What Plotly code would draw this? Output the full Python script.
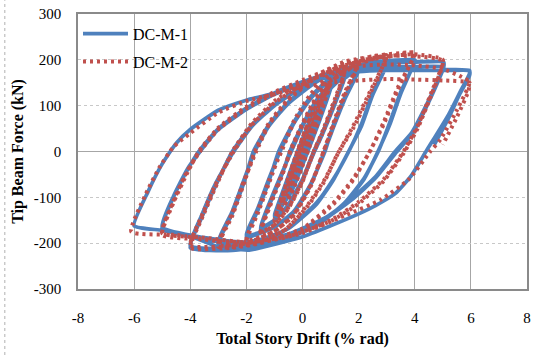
import plotly.graph_objects as go

# ---------------- data ----------------
X_TICKS = [-8, -6, -4, -2, 0, 2, 4, 6, 8]
Y_TICKS = [-300, -200, -100, 0, 100, 200, 300]

# DC-M-1 (blue) : drift (% rad) / tip beam force (kN), one cycle per line
DCM1_DRIFT = [
    0,
    0.375, 0.12, -0.375, -0.12, 0.375,
    0.5, 0.2, -0.2, -0.5, -0.2, 0.2, 0.5,
    0.75, 0.4, 0, -0.4, -0.75, -0.4, 0, 0.4, 0.75,
    1, 0.6, 0.1, -0.4, -1, -0.6, -0.1, 0.4, 1,
    1, 0.6, 0.1, -0.4, -1, -0.6, -0.1, 0.4, 1,
    1.5, 1.1, 0.7, 0.4, 0, -0.5, -1, -1.5, -1.1, -0.7, -0.45, 0, 0.5, 1, 1.5,
    1.5, 1.1, 0.7, 0.4, 0, -0.5, -1, -1.5, -1.1, -0.7, -0.4, 0, 0.5, 1, 1.5,
    2, 1.5, 1.1, 0.8, 0.3, -0.3, -1, -2, -1.6, -1.2, -0.85, -0.3, 0.3, 1, 2,
    2, 1.5, 1.1, 0.75, 0.3, -0.3, -1, -2, -1.6, -1.2, -0.8, -0.3, 0.3, 1, 2,
    3, 2.5, 2.1, 1.65, 1.1, 0.5, -0.5, -1.5, -3, -2.5, -2.1, -1.75, -1.2, -0.5, 0.5, 1.5, 3,
    3, 2.5, 2.1, 1.6, 1.1, 0.5, -0.5, -1.5, -3, -2.5, -2.1, -1.7, -1.2, -0.5, 0.5, 1.5, 3,
    4, 3.5, 3.1, 2.7, 2.2, 1.5, 0.5, -1, -2.5, -4, -3.6, -3.1, -2.5, -1.8, -1, 0, 1.2, 2.5, 4,
    4, 3.5, 3.1, 2.65, 2.2, 1.5, 0.5, -1, -2.5, -4, -3.6, -3.1, -2.45, -1.8, -1, 0, 1.2, 2.5, 4,
    5.03, 5.03, 4.5, 3.9, 3.3, 2.6, 1.8, 0.8, -0.5, -2, -3.5, -5, -4.6, -4.1, -3.7, -3, -2, -1, 0, 1, 2, 3, 4, 5.03,
    5.03, 4.5, 3.9, 3.3, 2.6, 1.8, 0.8, -0.5, -2, -3.5, -5, -4.6, -4.1, -3.65, -3, -2, -1, 0, 1, 2, 3, 4, 5.03, 5.03,
    5.95, 5.95, 5.6, 5.2, 4.4, 3.85, 3.3, 2.6, 2, 1, 0, -1.9, -3, -4, -5, -6, -5.5, -5, -4.5, -4, -3, -2, -1, 0, 1, 2, 3, 4, 5, 5.95,
    5.95, 5.6, 5.2, 4.7,
]
DCM1_FORCE = [
    0,
    55, 16, -58, -14, 55,
    76, 26, -34, -78, -24, 34, 76,
    110, 46, -14, -70, -112, -48, 14, 72, 110,
    140, 70, -10, -85, -142, -72, 10, 88, 140,
    137, 66, -14, -88, -140, -70, 12, 84, 137,
    165, 100, 40, 0, -60, -115, -150, -170, -105, -45, 0, 58, 112, 148, 165,
    160, 95, 36, -4, -62, -118, -150, -166, -100, -42, 0, 55, 108, 145, 160,
    180, 118, 58, 0, -70, -130, -165, -187, -130, -66, 0, 65, 120, 160, 180,
    176, 113, 52, -5, -72, -132, -165, -183, -125, -60, 0, 62, 116, 157, 176,
    192, 128, 60, 0, -60, -112, -168, -195, -205, -135, -70, 0, 58, 108, 155, 180, 192,
    188, 123, 55, -5, -62, -115, -168, -192, -200, -130, -64, 0, 55, 105, 152, 177, 188,
    200, 130, 62, 0, -58, -112, -162, -200, -216, -210, -145, -75, 0, 58, 102, 142, 175, 195, 200,
    196, 126, 57, -5, -60, -113, -162, -198, -212, -205, -140, -70, 0, 55, 100, 140, 172, 192, 196,
    195, 183, 112, 42, 0, -55, -100, -145, -180, -203, -192, -168, -100, -40, 0, 50, 95, 128, 152, 172, 186, 193, 195, 195,
    183, 108, 38, -5, -58, -103, -147, -180, -198, -188, -165, -98, -38, 0, 48, 92, 125, 148, 168, 180, 184, 185, 185, 180,
    177, 170, 128, 80, 0, -55, -92, -118, -136, -162, -186, -215, -208, -185, -172, -162, -87, -27, 18, 48, 90, 112, 127, 146, 163, 174, 177, 177, 177, 176,
    165, 125, 72, 15,
]

# DC-M-2 (red)
DCM2_DRIFT = [
    0,
    0.375, 0.1, -0.375, -0.1, 0.375,
    0.5, 0.2, -0.2, -0.5, -0.2, 0.2, 0.5,
    0.75, 0.4, 0, -0.4, -0.75, -0.4, 0, 0.4, 0.75,
    1, 0.6, 0.1, -0.4, -1, -0.6, -0.1, 0.4, 1,
    1, 0.6, 0.1, -0.4, -1, -0.6, -0.1, 0.4, 1,
    1.5, 1.1, 0.7, 0.4, 0, -0.5, -1, -1.5, -1.1, -0.7, -0.45, 0, 0.5, 1, 1.5,
    1.5, 1.1, 0.7, 0.38, 0, -0.5, -1, -1.5, -1.1, -0.7, -0.42, 0, 0.5, 1, 1.5,
    2, 1.5, 1.1, 0.75, 0.3, -0.3, -1, -2, -1.6, -1.2, -0.78, -0.3, 0.3, 1, 2,
    2, 1.5, 1.1, 0.72, 0.3, -0.3, -1, -2, -1.6, -1.2, -0.75, -0.3, 0.3, 1, 2,
    3, 2.4, 1.8, 1.3, 0.8, 0.2, -0.6, -1.5, -3, -2.5, -2.1, -1.7, -1.2, -0.5, 0.5, 1.5, 3,
    3, 2.4, 1.8, 1.25, 0.8, 0.2, -0.6, -1.5, -3, -2.5, -2.1, -1.65, -1.2, -0.5, 0.5, 1.5, 3,
    4, 3.4, 2.9, 2.4, 1.8, 1.1, 0, -1.5, -2.5, -4, -3.6, -3.1, -2.5, -1.8, -1, 0, 1.2, 2.5, 4,
    4, 3.4, 2.9, 2.35, 1.8, 1.1, 0, -1.5, -2.5, -4, -3.6, -3.1, -2.45, -1.8, -1, 0, 1.2, 2.5, 4,
    5, 4.6, 4.1, 3.6, 2.9, 2, 1, -0.5, -2, -3.5, -5, -4.6, -4.1, -3.7, -3, -2, -1, 0, 1, 2, 3, 4, 5,
    4.6, 4.1, 3.6, 2.9, 2, 1, -0.5, -2, -3.5, -5, -4.6, -4.1, -3.65, -3, -2, -1, 0, 1, 2, 3, 4, 5, 5.6, 5.95,
    5.5, 4.9, 4.55, 3.8, 2.8, 1.5, 0, -1.5, -3, -4.5, -6.1, -5.6, -5.1, -4.6, -4, -3, -2, -1, 0, 1, 2, 3, 4, 5, 5.95,
    5.9, 5.5, 5.0,
]
DCM2_FORCE = [
    0,
    60, 16, -60, -16, 60,
    82, 28, -36, -84, -26, 36, 82,
    118, 50, -15, -75, -120, -52, 17, 78, 118,
    148, 76, -12, -90, -152, -78, 12, 94, 148,
    150, 72, -15, -92, -150, -74, 15, 90, 150,
    176, 106, 42, 0, -64, -122, -160, -180, -110, -48, 0, 62, 120, 157, 176,
    172, 100, 38, -4, -66, -124, -160, -176, -105, -44, 0, 58, 116, 154, 172,
    195, 128, 62, 0, -72, -136, -174, -198, -136, -70, 0, 68, 126, 170, 195,
    190, 122, 56, -5, -75, -138, -174, -194, -130, -64, 0, 64, 122, 166, 190,
    210, 130, 55, 0, -60, -115, -170, -198, -208, -140, -72, 0, 62, 115, 166, 196, 210,
    206, 125, 50, -5, -63, -118, -170, -195, -204, -134, -66, 0, 58, 112, 162, 192, 206,
    216, 140, 65, 0, -60, -112, -168, -200, -210, -210, -148, -78, 0, 62, 110, 150, 185, 208, 216,
    212, 135, 60, -5, -63, -115, -170, -198, -206, -205, -142, -72, 0, 58, 106, 146, 182, 204, 212,
    200, 130, 55, 0, -60, -110, -150, -185, -202, -192, -182, -112, -46, 0, 52, 98, 130, 156, 180, 196, 208, 208, 198,
    125, 50, -4, -64, -114, -152, -185, -198, -188, -178, -108, -42, 0, 48, 94, 126, 150, 172, 186, 190, 188, 180, 165, 152,
    90, 25, 0, -60, -105, -140, -178, -198, -195, -182, -175, -95, -35, 10, 40, 85, 110, 125, 140, 150, 155, 158, 157, 155, 150,
    130, 75, 15,
]

SERIES_NAMES = ["DC-M-1", "DC-M-2"]
X_TITLE = "Total Story Drift (% rad)"
Y_TITLE = "Tip Beam Force (kN)"

BLUE = "#4F81BD"
RED = "#C0504D"
SERIF = "Liberation Serif"

fig = go.Figure()
fig.add_trace(go.Scatter(
    x=DCM1_DRIFT, y=DCM1_FORCE, mode="lines", name=SERIES_NAMES[0],
    legendgroup="a",
    line=dict(color=BLUE, width=3.7, shape="spline", smoothing=0.5),
))
fig.add_trace(go.Scatter(
    x=DCM2_DRIFT, y=DCM2_FORCE, mode="lines", name=SERIES_NAMES[1],
    legendgroup="b",
    line=dict(color=RED, width=4, dash="3px,4px", shape="spline", smoothing=0.5),
))

# faint dotted border of the chart area at the left edge of the picture
fig.add_shape(type="line", xref="paper", yref="paper",
              x0=-0.163, x1=-0.163, y0=-0.24, y1=1.05,
              line=dict(color="#b0b0b0", width=1, dash="dot"))

fig.update_layout(
    width=536, height=356,
    margin=dict(l=78, r=5, t=14, b=67),
    paper_bgcolor="white", plot_bgcolor="white",
    font=dict(family=SERIF, size=14, color="black"),
    showlegend=True,
    legend=dict(
        x=0.0, y=0.99, xanchor="left", yanchor="top",
        bgcolor="rgba(0,0,0,0)", borderwidth=0,
        font=dict(family=SERIF, size=16, color="black"),
        tracegroupgap=4, traceorder="grouped", itemwidth=45,
    ),
    xaxis=dict(
        range=[-8, 8], tickmode="array", tickvals=X_TICKS,
        ticktext=[str(v) for v in X_TICKS],
        showgrid=True, gridcolor="#a6a6a6", gridwidth=1,
        zeroline=False, showline=True, linecolor="#8a8a8a", linewidth=1.5, mirror=True,
        ticks="", ticklabelstandoff=14,
        tickfont=dict(family=SERIF, size=15),
        title=dict(text="<b>" + X_TITLE + "</b>", font=dict(family=SERIF, size=16), standoff=8),
    ),
    yaxis=dict(
        range=[-300, 300], tickmode="array", tickvals=Y_TICKS,
        ticktext=[str(v) for v in Y_TICKS],
        showgrid=True, gridcolor="#c8c8c8", gridwidth=1, griddash="dot",
        zeroline=True, zerolinecolor="#a6a6a6", zerolinewidth=1,
        showline=True, linecolor="#8a8a8a", linewidth=1.5, mirror=True,
        ticks="", ticklabelstandoff=12,
        tickfont=dict(family=SERIF, size=15),
        title=dict(text="<b>" + Y_TITLE + "</b>", font=dict(family=SERIF, size=16), standoff=6),
    ),
)

fig.write_html("out.html")
